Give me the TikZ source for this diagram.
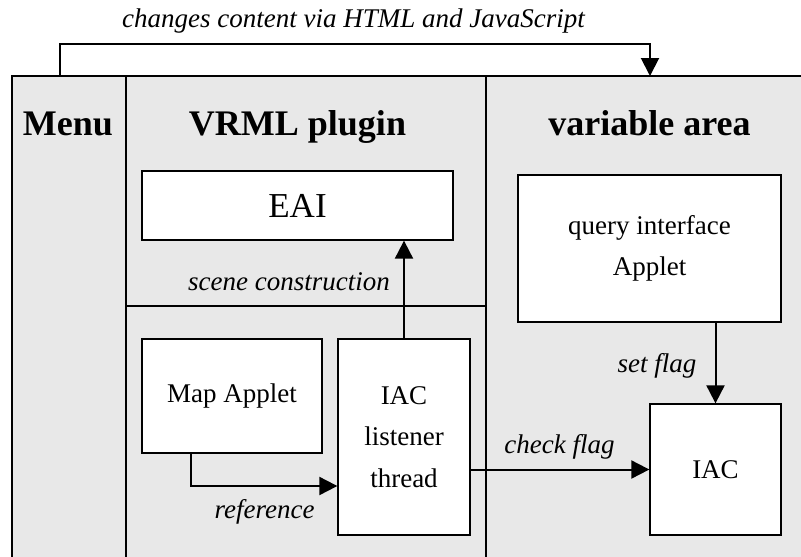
\documentclass[tikz,border=0pt]{standalone}
\usepackage{fontspec}
\setmainfont{Liberation Serif}
\usetikzlibrary{arrows.meta}
\definecolor{panel}{RGB}{232,232,232}
\begin{document}
\begin{tikzpicture}[x=1pt,y=-1pt,
 box/.style={draw, line width=1.3pt, fill=white, inner sep=0pt, align=center, font=\fontsize{27}{41.5}\selectfont},
 frame/.style={line width=2pt},
 conn/.style={line width=2pt, -{Triangle[length=18pt,width=18pt]}},
 lbl/.style={font=\fontsize{27}{32}\selectfont\itshape, inner sep=0pt, anchor=base},
 head/.style={font=\fontsize{36}{40}\selectfont\bfseries, inner sep=0pt, anchor=base}]
\useasboundingbox (0,0) rectangle (801,557);
\fill[panel] (12,76) rectangle (801,557);
\draw[frame, line join=miter] (801,76) -- (12,76) -- (12,557);
\draw[frame] (126,76) -- (126,557);
\draw[frame] (486,76) -- (486,557);
\draw[frame] (126,306) -- (486,306);
% headings
\node[head] (menu) at (68,135) {Menu};
\node[head] (vrml) at (297.5,135) {VRML plugin};
\node[head] (var) at (649.5,135) {variable area};
% boxes
\node[box, minimum width=311pt, minimum height=69pt, font=\fontsize{35}{40}\selectfont] (eai) at (297.5,205.5) {EAI};
\node[box, minimum width=263pt, minimum height=147pt] (query) at (649.5,248.5) {query interface\\Applet};
\node[box, minimum width=180pt, minimum height=114pt] (map) at (232,396) {Map Applet};
\node[box, minimum width=132pt, minimum height=196pt] (iacl) at (404,437) {IAC\\listener\\thread};
\node[box, minimum width=131pt, minimum height=131pt] (iac) at (715.5,469.5) {IAC};
% top connector
\coordinate (menuout) at (60,76);
\coordinate (varin) at (650,76);
\draw[conn] (menuout) -- ++(0,-32) -| (varin);
\node[lbl] (toplbl) at (353.5,27) {changes content via HTML and JavaScript};
% scene construction
\draw[conn] (iacl.north) -- (iacl.north |- eai.south);
\node[lbl, anchor=base east] (scl) at (390,290) {scene construction};
% reference
\coordinate (refbend) at (191,486);
\draw[conn] (map.south -| refbend) -- (refbend) -- (iacl.west |- refbend);
\node[lbl] (reflbl) at (264.5,518) {reference};
% check flag
\draw[conn] (iacl.east |- iac.west) -- (iac.west);
\node[lbl] (chklbl) at (559.5,453) {check flag};
% set flag
\draw[conn] (iac.north |- query.south) -- (iac.north);
\node[lbl] (setlbl) at (657,372) {set flag};
\end{tikzpicture}
\end{document}
